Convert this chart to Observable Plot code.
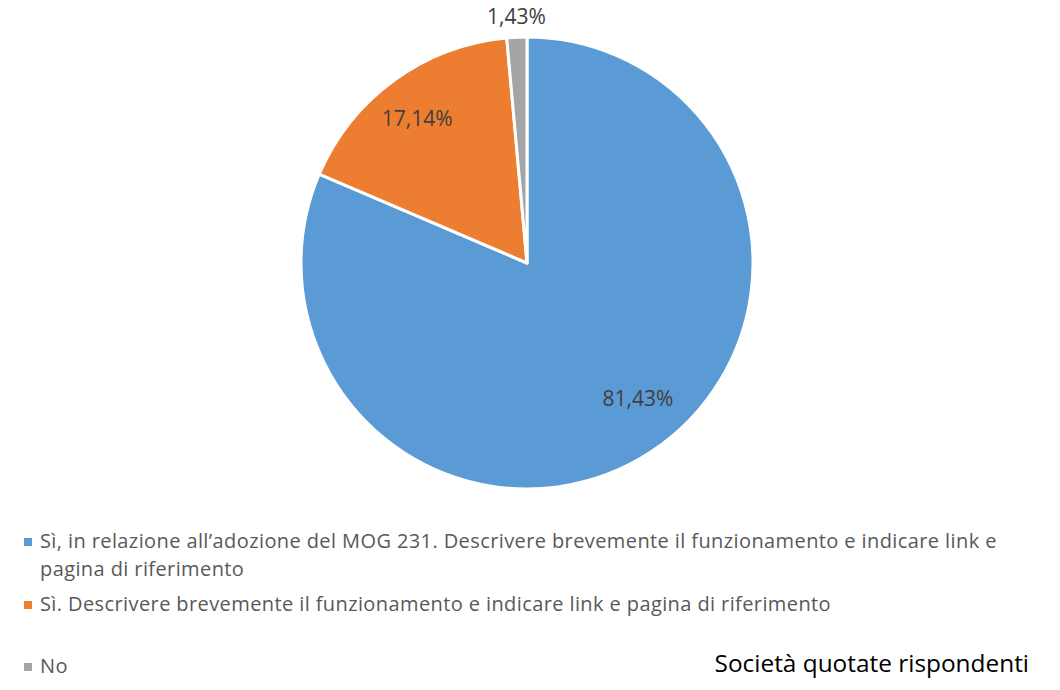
<!DOCTYPE html>
<html>
<head>
<meta charset="utf-8">
<script src="https://cdn.jsdelivr.net/npm/d3@7"></script>
<script src="https://cdn.jsdelivr.net/npm/@observablehq/plot@0.6"></script>
<style>
  body { margin: 0; background: #fff; font-family: "Open Sans", sans-serif; }
  #wrap { position: relative; width: 1060px; height: 690px; overflow: hidden; }
  #chart { position: absolute; left: 0; top: 0; }
  .leg { position: absolute; left: 40px; color: #595959; font-size: 20px; letter-spacing: 0.4px; line-height: 28px; width: 985px; }
  .leg .sw { position: absolute; left: -16px; top: 11px; width: 8px; height: 8px; }
  #title { position: absolute; right: 31px; top: 646px; font-size: 24.4px; color: #000; }
</style>
</head>
<body>
<div id="wrap">
  <div id="chart"></div>
  <div id="legend"></div>
  <div id="title"></div>
</div>
<script>
const categories = [
  "Sì, in relazione all’adozione del MOG 231. Descrivere brevemente il funzionamento e indicare link e pagina di riferimento",
  "Sì. Descrivere brevemente il funzionamento e indicare link e pagina di riferimento",
  "No"
];
const values = [81.43, 17.14, 1.43];
const labels = ["81,43%", "17,14%", "1,43%"];
const colors = ["#5B9BD5", "#ED7D31", "#A5A5A5"];
const titleText = "Società quotate rispondenti";

const labelRadius = [0.775, 0.80, 1.09];
const labelShift = [[14, -10], [-4, 2], [0, 0]];

const pie = d3.pie().sort(null).value(d => d.value)(
  categories.map((c, i) => ({category: c, value: values[i], label: labels[i], color: colors[i]}))
);
const slices = pie.map((p, i) => {
  const mid = (p.startAngle + p.endAngle) / 2;
  return {...p.data, i, startAngle: p.startAngle, endAngle: p.endAngle,
    lx: Math.sin(mid) * labelRadius[i], ly: Math.cos(mid) * labelRadius[i]};
});

function pieMark(data) {
  return (index, scales, values, dimensions, context) => {
    const cx = scales.x(0), cy = scales.y(0);
    const r = scales.x(1) - scales.x(0);
    const arc = d3.arc().innerRadius(0).outerRadius(r);
    const g = d3.create("svg:g").attr("transform", `translate(${cx},${cy})`);
    g.selectAll("path").data(data).join("path")
      .attr("d", d => arc(d))
      .attr("fill", d => d.color)
      .attr("stroke", "#fff")
      .attr("stroke-width", 3)
      .attr("stroke-linejoin", "round");
    return g.node();
  };
}

const plot = Plot.plot({
  width: 1060,
  height: 510,
  margin: 0,
  x: {domain: [-1, 1], range: [301, 753], axis: null},
  y: {domain: [-1, 1], range: [489, 37], axis: null},
  style: {fontFamily: "Open Sans, sans-serif", background: "transparent"},
  marks: [
    pieMark(slices),
    ...slices.map((s, i) => Plot.text([s], {
      x: "lx", y: "ly", text: "label", fontSize: 21, fill: "#404040",
      dx: labelShift[i][0], dy: labelShift[i][1]
    }))
  ]
});
document.getElementById("chart").appendChild(plot);

const legendTops = [527, 590, 652];
const legend = document.getElementById("legend");
categories.forEach((c, i) => {
  const d = document.createElement("div");
  d.className = "leg";
  d.style.top = legendTops[i] + "px";
  const sw = document.createElement("span");
  sw.className = "sw";
  sw.style.background = colors[i];
  d.appendChild(sw);
  d.appendChild(document.createTextNode(c));
  legend.appendChild(d);
});
document.getElementById("title").textContent = titleText;
</script>
</body>
</html>
